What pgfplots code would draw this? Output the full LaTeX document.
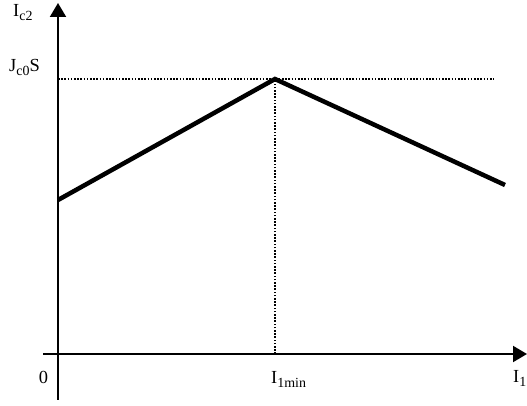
\documentclass[border=0pt]{standalone}
\usepackage{pgfplots}
\pgfplotsset{compat=1.18}
\usetikzlibrary{arrows.meta}
\usepackage{fontspec}
\setmainfont{Liberation Serif}
% letter with a lowered, smaller subscript
\newcommand{\lbl}[2]{#1\raisebox{-4bp}{\fontsize{14}{14}\selectfont #2}}

\begin{document}
\begin{tikzpicture}[lab/.style={font=\fontsize{18.5}{20}\selectfont, inner sep=0pt}]
\begin{axis}[
  x=1bp, y=1bp,
  xmin=-15, xmax=469, ymin=-46, ymax=351,
  axis lines=middle,
  axis line style={line width=2bp},
  every inner x axis line/.append style={-{Triangle[width=16bp,length=14bp]}},
  every inner y axis line/.append style={-{Triangle[width=16bp,length=14bp]}},
  xtick=\empty, ytick=\empty,
  clip=false,
]
\addplot[black, line width=4.5bp] coordinates {(0,154) (217,275) (447,169)};
\addplot[black, line width=1.8bp, dash pattern=on 1.6bp off 1.6bp] coordinates {(0,275) (436,275)};
\addplot[black, line width=1.8bp, dash pattern=on 1.6bp off 1.6bp] coordinates {(217,0) (217,275)};

\node[lab, anchor=base] at (axis cs:-14.5,-30) {0};
\node[lab, anchor=base west] at (axis cs:213,-30) {\lbl{I}{1min}};
\node[lab, anchor=base west] at (axis cs:455,-29) {\lbl{I}{1}};
\node[lab, anchor=base west] at (axis cs:-49,282) {\lbl{J}{c0}S};
\node[lab, anchor=base west] at (axis cs:-45,337) {\lbl{I}{c2}};
\coordinate (o) at (axis cs:0,0);
\end{axis}
\pgfresetboundingbox
\path ([shift={(-58bp,-52bp)}]o) rectangle ([shift={(469bp,354bp)}]o);
\end{tikzpicture}
\end{document}
